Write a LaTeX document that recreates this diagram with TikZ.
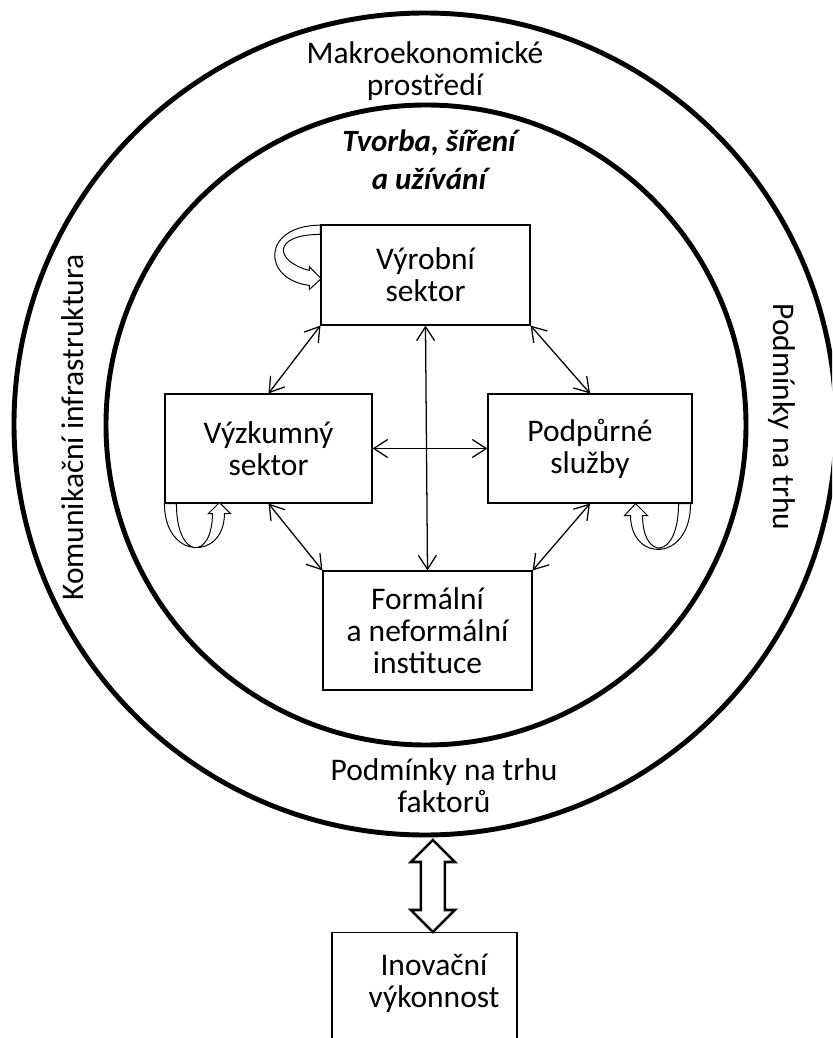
\documentclass[tikz,border=0pt]{standalone}
\usepackage{fontspec}
\setmainfont{Carlito}
\usetikzlibrary{arrows.meta,calc}

\tikzset{
  sektor/.style={draw, line width=0.8pt, fill=white, align=center, inner sep=0pt},
  popis/.style={align=center},
  spoj/.style={{Straight Barb[length=3.5mm,width=4.5mm]}-{Straight Barb[length=3.5mm,width=4.5mm]}, line width=0.9pt},
  smycka/.style={draw, fill=white, line width=0.7pt},
}

\begin{document}
\begin{tikzpicture}[font=\fontsize{22.4pt}{22.7pt}\selectfont]
\useasboundingbox (-10.625,-15.35) rectangle (10.175,10.6);
\clip (-10.625,-15.35) rectangle (10.175,10.6);
% rings
\draw[line width=3.5pt] (0,0) circle (10.275);
\draw[line width=3.5pt] (0.025,-0.025) circle (8.0);
% ring labels
\node[popis] (makro) at (0,8.8125) {Makroekonomické\\prostředí};
\node[popis, font=\fontsize{22pt}{27pt}\selectfont\bfseries\itshape] (tvorba) at (0.1,6.6) {Tvorba, šíření\\a užívání};
\node[rotate=90] (komun) at (-8.8,-0.0875) {Komunikační infrastruktura};
\node[rotate=-90] (trh) at (8.925,0.175) {Podmínky na trhu};
\node[popis] (faktory) at (0.475,-9.05) {Podmínky na trhu\\faktorů};
% sectors
\node[sektor, minimum width=5.225cm, minimum height=2.5cm] (vyrob) at (0.0125,3.725) {Výrobní\\sektor};
\node[sektor, minimum width=5.175cm, minimum height=2.725cm] (vyzkum) at (-3.9125,-0.6125) {Výzkumný\\sektor};
\node[sektor, minimum width=5.1cm, minimum height=2.725cm] (podpur) at (4.125,-0.6125) {Podpůrné\\služby};
\node[sektor, minimum width=5.225cm, minimum height=2.975cm] (formal) at (0.0625,-5.1625) {Formální\\a neformální\\instituce};
\draw[spoj] (vyrob.south west) -- (vyzkum.north);
\draw[spoj] (vyrob.south east) -- (podpur.north);
\draw[spoj] (vyrob.south) -- (formal.north);
\draw[spoj] (vyzkum.east) -- (podpur.west);
\draw[spoj] (vyzkum.south) -- (formal.north west);
\draw[spoj] (podpur.south) -- (formal.north east);
% curved self arrows
\begin{scope}[shift={(vyrob.north west)}, x=0.025cm, y=-0.025cm]
  \draw[smycka] (0,0.7) .. controls (-59,1) and (-59,55) .. (-11,61) -- (-11,65) -- (0.7,54.3) -- (-11,42.3) -- (-11,46) .. controls (-46,37) and (-49,10) .. (0,10) -- cycle;
\end{scope}
\begin{scope}[shift={(vyzkum.south west)}, x=0.025cm, y=-0.025cm]
  \draw[smycka] (0,0) .. controls (0,57) and (60,57) .. (60,10) -- (66,10) -- (55,-1) -- (44,10) -- (48,10) .. controls (48,57) and (12,57) .. (12,0) -- cycle;
\end{scope}
\begin{scope}[shift={(podpur.south east)}, x=0.025cm, y=-0.025cm]
  \draw[smycka] (-2,0) .. controls (-2,59) and (-62,59) .. (-62,12) -- (-68,12) -- (-57,0) -- (-45,12) -- (-50,12) .. controls (-50,57) and (-14,57) .. (-14,0) -- cycle;
\end{scope}
% performance
\node[sektor, minimum width=4.625cm, minimum height=3.2cm, anchor=north] (inov) at (-0.0125,-12.7) {};
\node[popis] (inovtext) at (0.225,-13.99) {Inovační\\výkonnost};
\draw[line width=1.8pt, fill=white] ($(inov.north)+(0.21,0)$) -- ++(-0.55,0.55) -- ++(0.25,0) -- ++(0,1.2) -- ++(-0.25,0) -- ++(0.55,0.55) -- ++(0.55,-0.55) -- ++(-0.25,0) -- ++(0,-1.2) -- ++(0.25,0) -- cycle;
\end{tikzpicture}
\end{document}
